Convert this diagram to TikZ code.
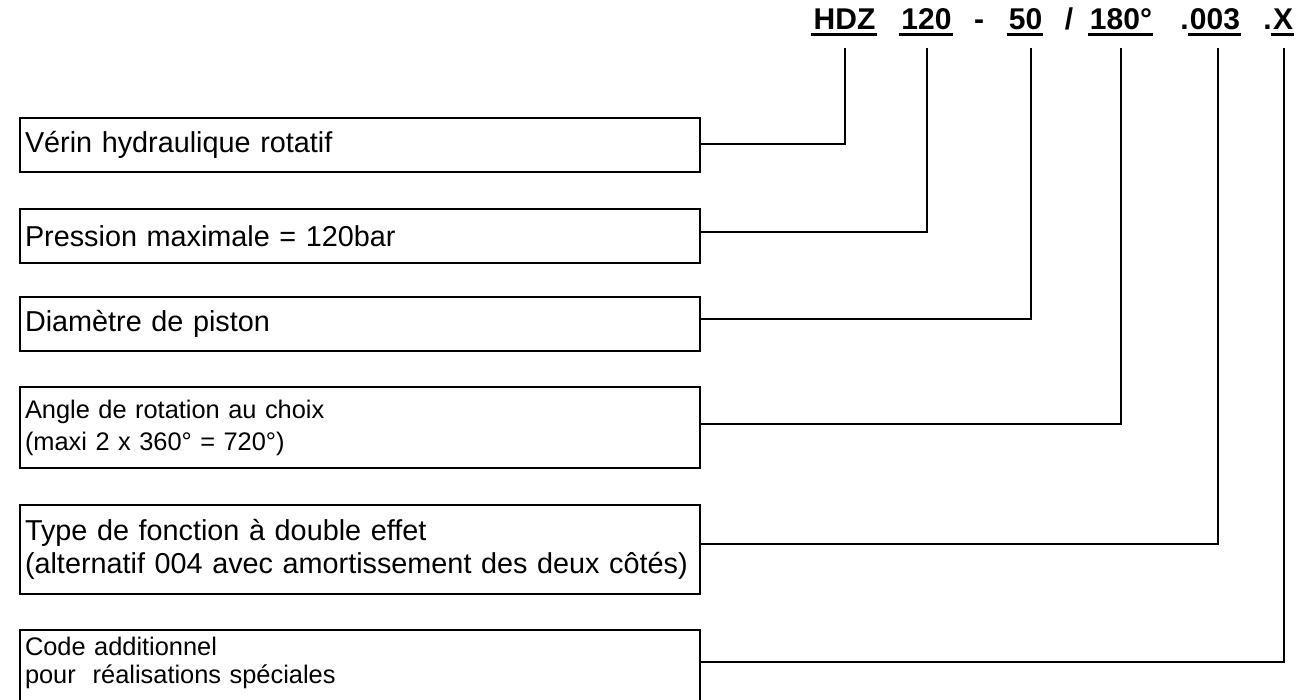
\documentclass[tikz,border=0pt]{standalone}
\usepackage{fontspec}
\setmainfont{Liberation Sans}
\begin{document}
\begin{tikzpicture}[x=1pt,y=-1pt,
  box/.style={draw,line width=2pt,anchor=north west,inner xsep=5pt,inner ysep=0pt,
    text width=670pt,align=left,font=\fontsize{28.8}{33}\selectfont},
  smallbox/.style={box,font=\fontsize{25.4}{32}\selectfont},
  code/.style={anchor=base,inner sep=0pt,font=\fontsize{30}{34}\selectfont\bfseries},
  uline/.style={line width=3pt},
  conn/.style={line width=2pt}]
\useasboundingbox (0,0) rectangle (1307,700);
\clip (0,0) rectangle (1307,700);
% title code
\node[code] (hdz) at (844.5,30) {HDZ};
\node[code] (p120) at (926.5,30) {120};
\node[code] (dash) at (979,30) {-};
\node[code] (p50) at (1025.5,30) {50};
\node[code] (slash) at (1069,30) {/};
\node[code] (p180) at (1121,30) {180°};
\node[code] (p003) at (1215,30) {003};
\node[code,anchor=base east] (dota) at ([xshift=-1pt]p003.base west) {.};
\node[code] (px) at (1283,30) {X};
\node[code,anchor=base east] (dotb) at ([xshift=-1pt]px.base west) {.};
\foreach \n in {hdz,p120,p50,p180,p003,px}
  \draw[uline] ([xshift=-2pt,yshift=-4.5pt]\n.base west) -- ([xshift=1pt,yshift=-4.5pt]\n.base east);
% connector tops
\coordinate (t1) at (845,48);
\coordinate (t2) at (927,48);
\coordinate (t3) at (1031,48);
\coordinate (t4) at (1121,48);
\coordinate (t5) at (1218,48);
\coordinate (t6) at (1284,48);
% boxes
\node[box,minimum height=54pt] (b1) at (19,117) {Vérin hydraulique rotatif};
\node[box,minimum height=54pt] (b2) at (19,208) {Pression maximale = 120bar};
\node[box,minimum height=54pt] (b3) at (19,296) {Diamètre de piston};
\node[smallbox,minimum height=81pt] (b4) at (19,386) {Angle de rotation au choix\\(maxi 2 x 360° = 720°)};
\node[box,minimum height=89pt] (b5) at (19,504) {Type de fonction à double effet\\\mbox{(alternatif 004 avec amortissement des deux côtés)}};
\node[smallbox,font=\fontsize{25.4}{28}\selectfont,inner ysep=7pt,text depth=60pt] (b6) at (19,629) {Code additionnel\\pour~ réalisations spéciales};
% connectors
\draw[conn] ([yshift=1pt]b1.east) -| (t1);
\draw[conn] ([yshift=4pt]b2.east) -| (t2);
\draw[conn] ([yshift=5pt]b3.east) -| (t3);
\draw[conn] ([yshift=3.5pt]b4.east) -| (t4);
\draw[conn] ([yshift=5.5pt]b5.east) -| (t5);
\draw[conn] ([yshift=-33pt]b6.north east) -| (t6);
\end{tikzpicture}
\end{document}
